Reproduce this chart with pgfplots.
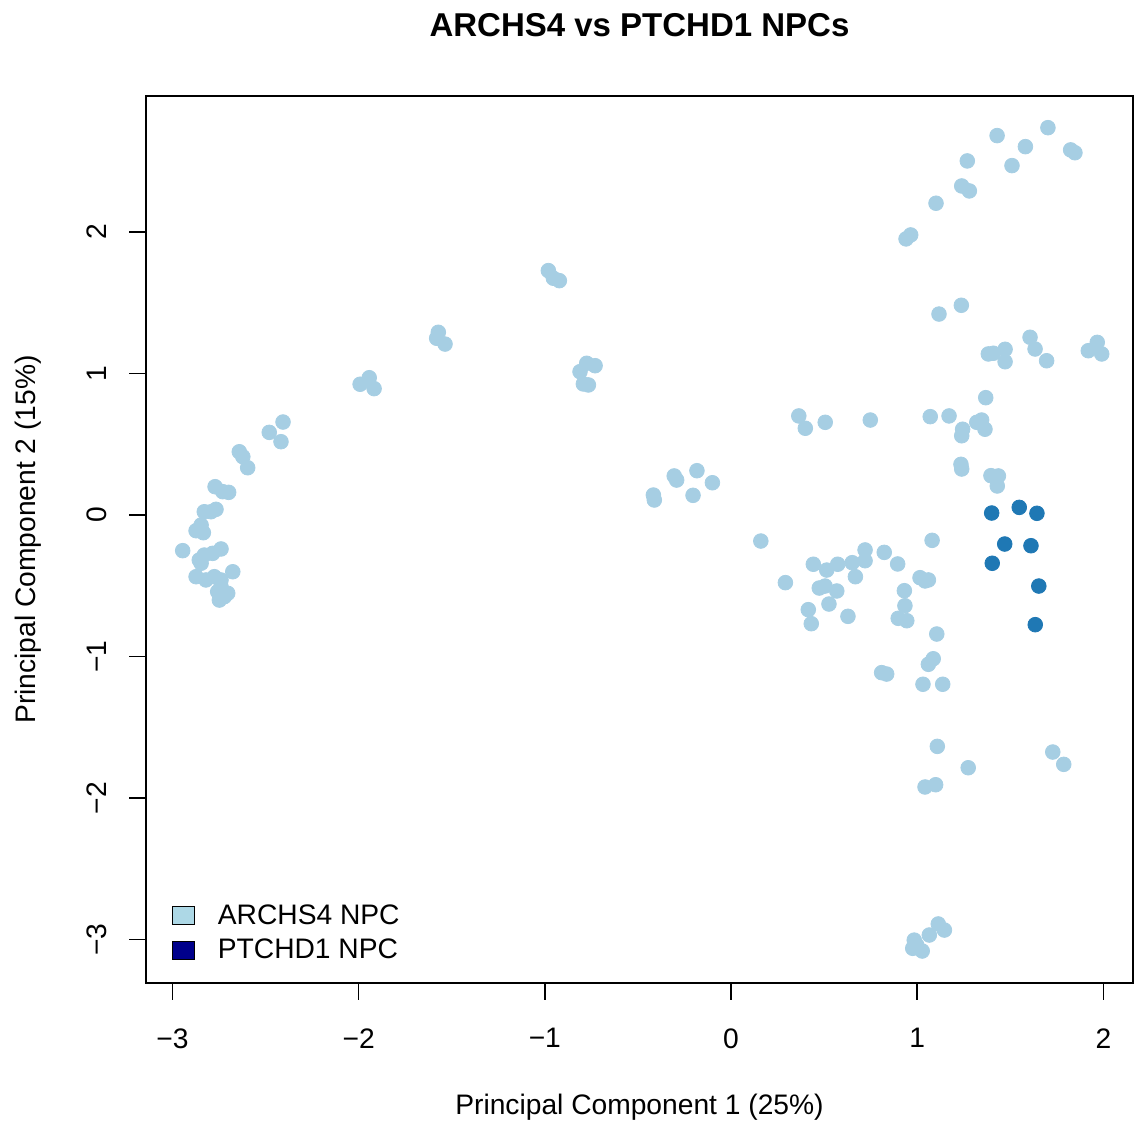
\documentclass[border=0pt]{standalone}
\usepackage{pgfplots}
\pgfplotsset{compat=1.18}
\usepackage{fontspec}
\setmainfont{Liberation Sans}
\definecolor{archpt}{HTML}{A6CEE3}
\definecolor{ptchpt}{HTML}{1F78B4}
\definecolor{archbox}{HTML}{ADD8E6}
\definecolor{ptchbox}{HTML}{00008B}
\begin{document}
\begin{tikzpicture}
\begin{axis}[
  at={(0,0)}, anchor=south west,
  scale only axis,
  width=493.5pt, height=443.5pt,
  xmin=-3.142, xmax=2.159,
  ymin=-3.307, ymax=2.961,
  axis line style={line width=0.8pt},
  every tick/.style={line width=0.8pt, black},
  tick align=outside,
  major tick length=8.5pt,
  xtick pos=bottom, ytick pos=left,
  xtick={-3,-2,-1,0,1,2},
  xticklabels={−3,−2,−1,0,1,2},
  ytick={-3,-2,-1,0,1,2},
  yticklabels={−3,−2,−1,0,1,2},
  tick label style={font=\fontsize{14.1}{16}\selectfont},
  xticklabel style={anchor=north, inner sep=0pt},
  yticklabel style={rotate=90, anchor=south, inner sep=0pt},
  xticklabel shift=14pt,
  yticklabel shift=11pt,
  title={\bfseries ARCHS4 vs PTCHD1 NPCs},
  title style={font=\fontsize{16.5}{19}\selectfont, at={(axis description cs:0.5,1.0665)}, anchor=center},
  xlabel={Principal Component 1 (25\%)},
  ylabel={Principal Component 2 (15\%)},
  label style={font=\fontsize{14.1}{16}\selectfont},
  xlabel style={at={(axis description cs:0.5,-0.14)}, anchor=center},
  ylabel style={at={(axis description cs:-0.1196,0.5)}, anchor=center},
  legend style={draw=none, fill=none, at={(axis description cs:0.026,0.0233)}, anchor=south west,
    inner sep=0pt, font=\fontsize{14.1}{16}\selectfont, row sep=6pt,
    nodes={inner sep=0pt}, column sep=11.5pt},
  legend cell align=left,
]
\addplot[only marks, mark=*, mark size=3.67pt, mark options={draw=archpt, fill=archpt}, forget plot] table[row sep=\\] {
x y\\
-2.406 0.657\\ -2.480 0.584\\ -2.417 0.518\\ -2.641 0.447\\ -2.622 0.412\\ -2.596 0.334\\
-2.771 0.200\\ -2.730 0.165\\ -2.698 0.160\\ -2.829 0.023\\ -2.766 0.040\\ -2.793 0.023\\
-2.846 -0.071\\ -2.873 -0.111\\ -2.834 -0.125\\ -2.945 -0.252\\ -2.739 -0.240\\ -2.784 -0.271\\
-2.829 -0.283\\ -2.856 -0.318\\ -2.846 -0.341\\ -2.676 -0.401\\ -2.873 -0.436\\ -2.820 -0.459\\
-2.775 -0.436\\ -2.739 -0.459\\ -2.739 -0.507\\ -2.703 -0.553\\ -2.748 -0.601\\ -2.721 -0.577\\
-2.757 -0.542\\
-0.981 1.727\\ -0.954 1.673\\ -0.922 1.656\\ -1.572 1.291\\ -1.581 1.249\\ -1.536 1.208\\
-0.775 1.072\\ -0.730 1.055\\ -0.811 1.013\\ -0.793 0.926\\ -0.766 0.919\\
-1.992 0.924\\ -1.943 0.970\\ -1.917 0.893\\
0.364 0.700\\ 0.399 0.613\\ 0.506 0.655\\ 0.748 0.671\\ 1.070 0.695\\ 1.171 0.700\\
-0.305 0.276\\ -0.292 0.247\\ -0.183 0.313\\ -0.100 0.228\\ -0.417 0.141\\ -0.412 0.106\\ -0.204 0.139\\
0.160 -0.184\\ 1.080 -0.179\\ 0.720 -0.247\\ 0.720 -0.323\\ 0.823 -0.264\\ 0.442 -0.348\\
0.514 -0.389\\ 0.573 -0.348\\ 0.651 -0.337\\ 0.895 -0.346\\ 0.668 -0.436\\ 0.292 -0.478\\
0.474 -0.516\\ 0.505 -0.502\\ 0.568 -0.537\\ 0.931 -0.535\\ 1.015 -0.443\\ 1.042 -0.466\\
1.060 -0.459\\ 0.934 -0.641\\ 0.415 -0.669\\ 0.526 -0.629\\ 0.628 -0.716\\ 0.431 -0.768\\
0.898 -0.730\\ 0.944 -0.747\\ 1.105 -0.841\\
1.702 2.737\\ 1.429 2.681\\ 1.581 2.603\\ 1.824 2.580\\ 1.847 2.560\\ 1.269 2.502\\
1.509 2.469\\ 1.239 2.325\\ 1.280 2.290\\ 1.101 2.203\\ 0.965 1.979\\ 0.940 1.951\\
1.237 1.482\\ 1.117 1.420\\ 1.606 1.256\\ 1.633 1.173\\ 1.695 1.090\\ 1.967 1.220\\
1.919 1.161\\ 1.991 1.138\\ 1.382 1.138\\ 1.409 1.143\\ 1.472 1.171\\ 1.472 1.083\\
1.368 0.829\\ 1.244 0.606\\ 1.239 0.560\\ 1.320 0.655\\ 1.346 0.671\\ 1.364 0.606\\
1.235 0.358\\ 1.239 0.325\\ 1.396 0.278\\ 1.436 0.276\\ 1.430 0.205\\
1.086 -1.016\\ 1.060 -1.055\\ 0.836 -1.124\\ 0.809 -1.114\\ 1.031 -1.196\\ 1.137 -1.196\\
1.108 -1.635\\ 1.274 -1.786\\ 1.728 -1.675\\ 1.787 -1.762\\ 1.042 -1.922\\ 1.099 -1.906\\
1.113 -2.890\\ 1.146 -2.933\\ 1.065 -2.968\\ 0.984 -3.004\\ 0.976 -3.062\\ 1.027 -3.081\\ 0.997 -3.039\\
};
\addplot[only marks, mark=*, mark size=3.67pt, mark options={draw=ptchpt, fill=ptchpt}, forget plot] table[row sep=\\] {
x y\\
1.400 0.014\\ 1.548 0.054\\ 1.643 0.012\\ 1.470 -0.205\\ 1.611 -0.217\\ 1.403 -0.341\\
1.653 -0.502\\ 1.634 -0.775\\
};
\addlegendimage{legend image code/.code={\draw[black, line width=0.6pt, fill=archbox] (0pt,-4.5pt) rectangle (10.8pt,4.5pt);}}
\addlegendentry{ARCHS4 NPC}
\addlegendimage{legend image code/.code={\draw[black, line width=0.6pt, fill=ptchbox] (0pt,-4.5pt) rectangle (10.8pt,4.5pt);}}
\addlegendentry{PTCHD1 NPC}
\end{axis}
\pgfresetboundingbox
\path[use as bounding box] (-73pt,-72pt) rectangle (494pt,491.5pt);
\end{tikzpicture}
\end{document}
